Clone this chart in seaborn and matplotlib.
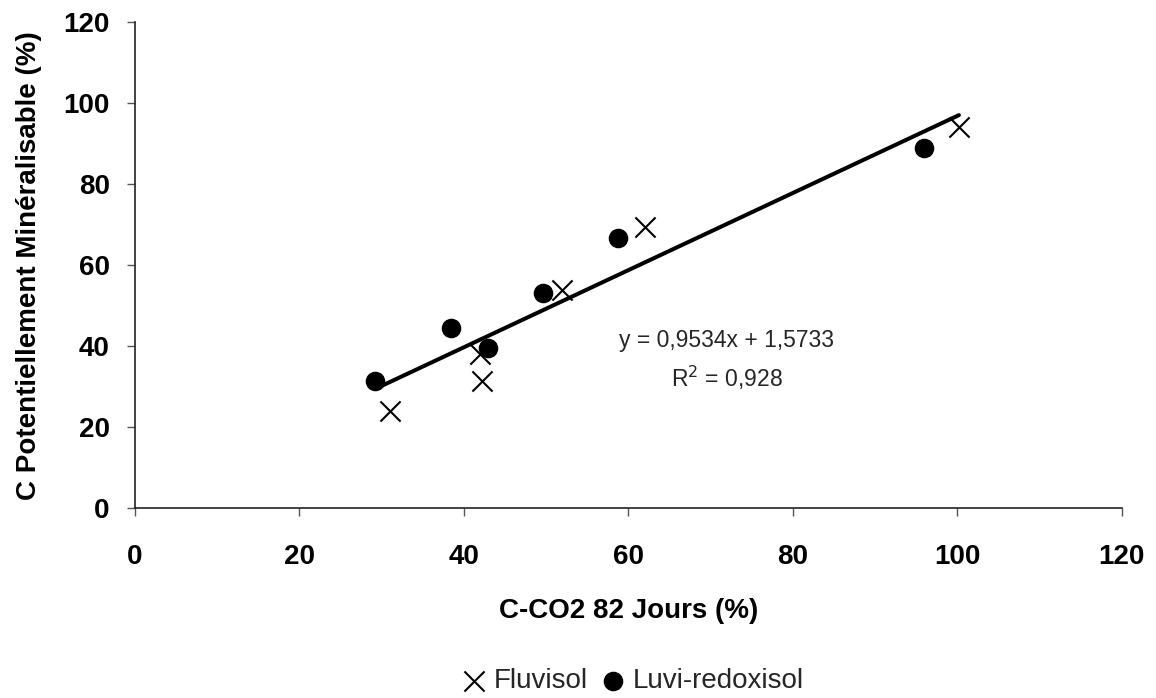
import pandas as pd
import numpy as np
import seaborn as sns
import matplotlib.pyplot as plt

sns.set_theme(style='white')
plt.rcParams['font.family'] = ['Liberation Sans', 'DejaVu Sans']

# values
fluvisol_x = [31.0, 42.0, 42.2, 52.0, 62.0, 100.2]
fluvisol_y = [24.0, 38.0, 31.4, 53.9, 69.5, 94.2]
luvi_x = [29.2, 38.4, 43.0, 49.6, 58.8, 96.0]
luvi_y = [31.4, 44.4, 39.6, 53.2, 66.8, 88.9]

slope = 0.9534
intercept = 1.5733
equation_text = 'y = 0,9534x + 1,5733'
r2_text = 'R$^2$ = 0,928'

df_fluvi = pd.DataFrame({'x': fluvisol_x, 'y': fluvisol_y})
df_luvi = pd.DataFrame({'x': luvi_x, 'y': luvi_y})

# trend line over the range of the data, from the printed equation
all_x = np.array(fluvisol_x + luvi_x)
line_x = np.array([all_x.min(), all_x.max()])
df_line = pd.DataFrame({'x': line_x, 'y': slope * line_x + intercept})

fig = plt.figure(figsize=(11.56, 6.98), dpi=100)
ax = fig.add_axes([0.1166, 0.2722, 0.8538, 0.6956])

sns.lineplot(x='x', y='y', data=df_line, color='black', linewidth=2.9, ax=ax)
sns.scatterplot(x='x', y='y', data=df_fluvi, marker='x', s=210, color='black',
                linewidth=1.5, label='Fluvisol', ax=ax)
sns.scatterplot(x='x', y='y', data=df_luvi, marker='o', s=170, color='black',
                edgecolor='black', label='Luvi-redoxisol', ax=ax)

ax.set_xlim(0, 120)
ax.set_ylim(0, 120)
ax.set_xticks(np.arange(0, 121, 20))
ax.set_yticks(np.arange(0, 121, 20))

sns.despine(ax=ax)
for side in ['left', 'bottom']:
    ax.spines[side].set_color('#222222')
    ax.spines[side].set_linewidth(1.2)

ax.tick_params(axis='both', direction='out', length=6, width=1, color='#555555',
               labelsize=20, bottom=True, left=True, labelcolor='black')
ax.tick_params(axis='x', pad=20)
ax.tick_params(axis='y', pad=12)
for lab in ax.get_xticklabels() + ax.get_yticklabels():
    lab.set_fontweight('bold')

ax.set_xlabel('C-CO2 82 Jours (%)', fontsize=20, fontweight='bold', labelpad=20,
              color='black')
ax.set_ylabel('C Potentiellement Minéralisable (%)', fontsize=20, fontweight='bold',
              labelpad=14, color='black')
ax.yaxis.set_label_coords(-0.0945, 0.5)

ax.text(72.0, 41.5, equation_text, fontsize=16.5, ha='center', va='center')
ax.text(72.0, 32.2, r2_text, fontsize=16.5, ha='center', va='center')

ax.get_legend().remove()
handles, labels = ax.get_legend_handles_labels()
fig.legend(handles, labels, loc='center', bbox_to_anchor=(0.548, 0.024), ncol=2,
           frameon=False, fontsize=20, handlelength=0.8, handletextpad=0.3,
           columnspacing=0.5, borderpad=0)

fig.savefig('out.png', dpi=100)
